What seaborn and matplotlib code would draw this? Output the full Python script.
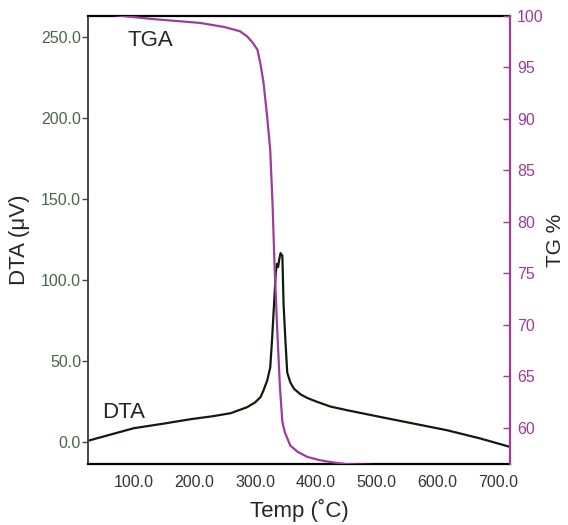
import matplotlib
matplotlib.use("Agg")
import matplotlib.pyplot as plt
import pandas as pd
import seaborn as sns

# DTA curve (uV)
temp_dta = [26, 60, 100, 150, 194, 230, 260, 287, 300, 309, 314, 320, 325,
            328, 331, 334, 336, 338, 340, 342, 345, 347, 350, 353, 358, 364,
            375, 386, 400, 424, 452, 506, 561, 616, 671, 720]
dta = [1.0, 4.5, 8.6, 11.5, 14.2, 16.0, 17.9, 21.6, 24.5, 27.8, 32.0, 38.0,
       46.0, 63.0, 83.0, 104.0, 110.0, 108.0, 113.0, 116.6, 115.0, 85.0, 63.0,
       43.0, 37.0, 33.0, 29.5, 27.3, 25.2, 22.0, 19.7, 15.6, 11.5, 7.4, 2.3,
       -2.9]

# TGA curve (weight %)
temp_tga = [25, 62, 128, 210, 250, 275, 287, 296, 304, 309, 314, 320, 325,
            329, 332, 336.5, 341, 345, 349, 358, 370, 386, 405, 424, 450, 500,
            600, 720]
tga = [100.4, 100.1, 99.7, 99.3, 98.9, 98.5, 98.0, 97.4, 96.7, 95.3, 93.5,
       90.2, 87.0, 81.5, 76.0, 69.6, 64.0, 60.6, 59.6, 58.3, 57.7, 57.2, 56.9,
       56.7, 56.5, 56.4, 56.3, 56.2]

x_ticks = [100, 200, 300, 400, 500, 600, 700]
dta_ticks = [0, 50, 100, 150, 200, 250]
tg_ticks = [60, 65, 70, 75, 80, 85, 90, 95, 100]

purple = "#9c3c9c"
green = "#48664a"

sns.set_style("white")
plt.rcParams["font.family"] = ["Liberation Sans", "DejaVu Sans"]

df_dta = pd.DataFrame({"temp": temp_dta, "dta": dta})
df_tga = pd.DataFrame({"temp": temp_tga, "tga": tga})

fig = plt.figure(figsize=(5.68, 5.25), dpi=100)
ax = fig.add_axes([0.155, 0.116, 0.743, 0.854])

sns.lineplot(data=df_dta, x="temp", y="dta", ax=ax, color="#111a11", linewidth=1.6)
ax.set_xlim(25, 720)
ax.set_ylim(-13.5, 263)
ax.set_xticks(x_ticks)
ax.set_xticklabels(["{:.1f}".format(t) for t in x_ticks], fontsize=11.5, color="#333333")
ax.set_yticks(dta_ticks)
ax.set_yticklabels(["{:.1f}".format(t) for t in dta_ticks], fontsize=11.5, color=green)
ax.tick_params(axis="x", direction="in", length=5, width=1, color="#333333", pad=8)
ax.tick_params(axis="y", direction="out", length=4, width=1, color="#444444", pad=1)
ax.set_xlabel("Temp (˚C)", fontsize=16, labelpad=6)
ax.set_ylabel("DTA (μV)", fontsize=16, labelpad=8)
for side in ["top", "bottom"]:
    ax.spines[side].set_color("black")
    ax.spines[side].set_linewidth(1.6)
ax.spines["left"].set_color("#444444")
ax.spines["left"].set_linewidth(1.4)
ax.spines["right"].set_visible(False)

ax.text(128, 248, "TGA", fontsize=16, ha="center", va="center")
ax.text(84, 18.5, "DTA", fontsize=16, ha="center", va="center")

ax2 = ax.twinx()
sns.lineplot(data=df_tga, x="temp", y="tga", ax=ax2, color=purple, linewidth=1.6)
ax2.set_ylim(56.5, 100)
ax2.set_yticks(tg_ticks)
ax2.set_yticklabels([str(t) for t in tg_ticks], fontsize=11.5, color=purple)
ax2.tick_params(axis="y", direction="in", length=5, width=1, color=purple, pad=5)
ax2.set_ylabel("TG %", fontsize=15, labelpad=2)
for side in ["top", "bottom", "left"]:
    ax2.spines[side].set_visible(False)
ax2.spines["right"].set_color(purple)
ax2.spines["right"].set_linewidth(1.6)
ax2.set_xlabel("")

fig.savefig("out.png", dpi=100)
